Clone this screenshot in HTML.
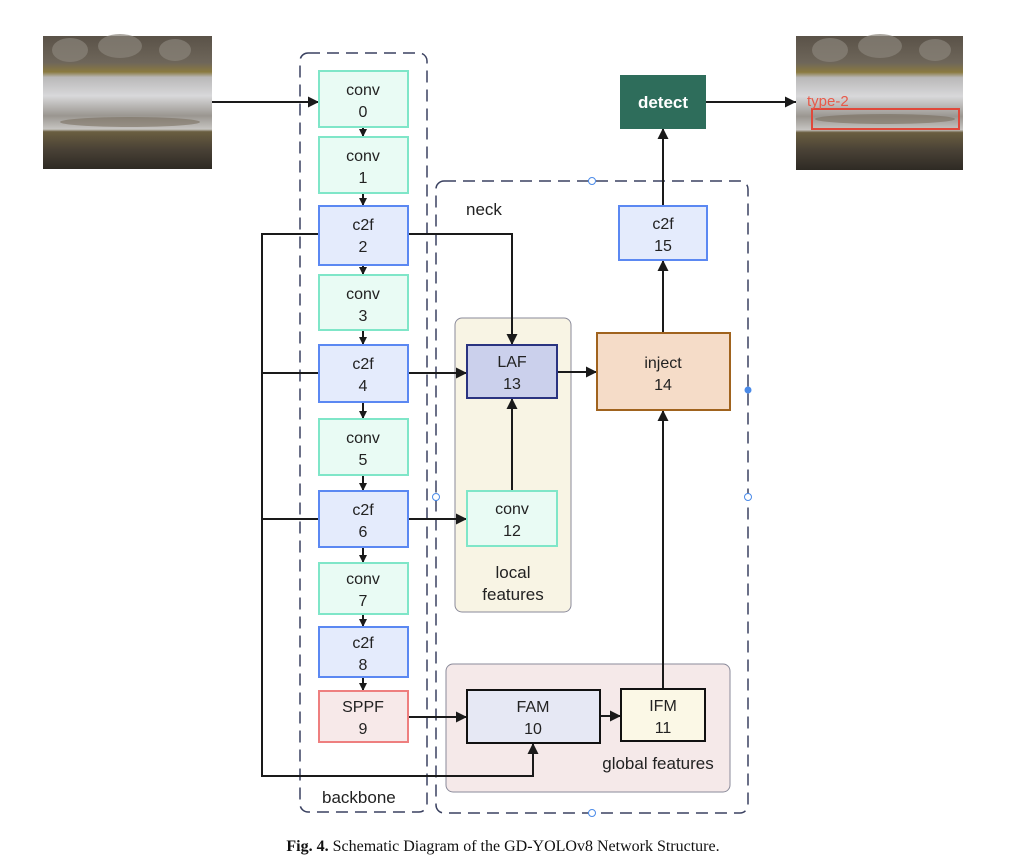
<!DOCTYPE html>
<html><head><meta charset="utf-8"><style>
html,body{margin:0;padding:0;background:#fff;}
svg{display:block;}
.s{font-family:"Liberation Sans","DejaVu Sans",sans-serif;}
</style></head><body>
<svg width="1011" height="864" viewBox="0 0 1011 864" xmlns="http://www.w3.org/2000/svg">
<defs>
<marker id="a" viewBox="0 0 10 10" refX="10" refY="5" markerWidth="8" markerHeight="8" orient="auto-start-reverse" markerUnits="userSpaceOnUse">
<path d="M0,0 L10,5 L0,10 z" fill="#1a1a1a"/></marker>
<marker id="b" viewBox="0 0 10 10" refX="10" refY="5" markerWidth="11" markerHeight="11" orient="auto" markerUnits="userSpaceOnUse">
<path d="M0,0 L10,5 L0,10 z" fill="#1a1a1a"/></marker>
<linearGradient id="rail" x1="0" y1="0" x2="0" y2="1">
<stop offset="0" stop-color="#5a5248"/><stop offset="0.2" stop-color="#6e665a"/>
<stop offset="0.27" stop-color="#8a7a40"/><stop offset="0.31" stop-color="#b9b8b8"/>
<stop offset="0.45" stop-color="#d8d8da"/><stop offset="0.6" stop-color="#9a9690"/>
<stop offset="0.7" stop-color="#c7c5c2"/><stop offset="0.72" stop-color="#6a5e40"/>
<stop offset="0.85" stop-color="#4a4236"/><stop offset="1" stop-color="#2e2a24"/>
</linearGradient>
</defs>

<!-- images -->
<rect x="43" y="36" width="169" height="133" fill="url(#rail)"/>
<g fill="#8a847a" opacity="0.7">
<ellipse cx="70" cy="50" rx="18" ry="12"/><ellipse cx="120" cy="46" rx="22" ry="12"/><ellipse cx="175" cy="50" rx="16" ry="11"/>
</g>
<ellipse cx="130" cy="122" rx="70" ry="5" fill="#7a7060" opacity="0.6"/>
<rect x="796" y="36" width="167" height="134" fill="url(#rail)"/>
<g fill="#8a847a" opacity="0.7">
<ellipse cx="830" cy="50" rx="18" ry="12"/><ellipse cx="880" cy="46" rx="22" ry="12"/><ellipse cx="935" cy="50" rx="16" ry="11"/>
</g>
<ellipse cx="885" cy="119" rx="70" ry="5" fill="#7a7060" opacity="0.6"/>
<rect x="812" y="109" width="147" height="20" fill="none" stroke="#e0483a" stroke-width="2"/>
<text class="s" x="807" y="106" font-size="15" fill="#e85a4a">type-2</text>

<!-- group boxes -->
<rect x="300" y="53" width="127" height="759" rx="8" fill="none" stroke="#3a4160" stroke-width="1.5" stroke-dasharray="12,7"/>
<rect x="436" y="181" width="312" height="632" rx="8" fill="none" stroke="#3a4160" stroke-width="1.5" stroke-dasharray="12,7"/>
<circle cx="592" cy="181" r="3.5" fill="#fff" stroke="#4a8ae8"/>
<circle cx="592" cy="813" r="3.5" fill="#fff" stroke="#4a8ae8"/>
<circle cx="436" cy="497" r="3.5" fill="#fff" stroke="#4a8ae8"/>
<circle cx="748" cy="497" r="3.5" fill="#fff" stroke="#4a8ae8"/>
<circle cx="748" cy="390" r="3.5" fill="#4a8ae8"/>
<rect x="455" y="318" width="116" height="294" rx="7" fill="#f8f4e4" stroke="#8a8a9a"/>
<rect x="446" y="664" width="284" height="128" rx="7" fill="#f5e9e9" stroke="#8a8a9a"/>
<g class="s" font-size="17" fill="#222">
<text x="466" y="215">neck</text>
<text x="322" y="803">backbone</text>
<text x="513" y="578" text-anchor="middle">local</text>
<text x="513" y="600" text-anchor="middle">features</text>
<text x="658" y="769" text-anchor="middle">global features</text>
</g>

<!-- connectors -->
<g stroke="#1a1a1a" stroke-width="2" fill="none">
<line x1="212" y1="102" x2="319" y2="102" marker-end="url(#b)"/>
<line x1="363" y1="127" x2="363" y2="137" marker-end="url(#a)"/>
<line x1="363" y1="193" x2="363" y2="206" marker-end="url(#a)"/>
<line x1="363" y1="265" x2="363" y2="275" marker-end="url(#a)"/>
<line x1="363" y1="330" x2="363" y2="345" marker-end="url(#a)"/>
<line x1="363" y1="402" x2="363" y2="419" marker-end="url(#a)"/>
<line x1="363" y1="475" x2="363" y2="491" marker-end="url(#a)"/>
<line x1="363" y1="547" x2="363" y2="563" marker-end="url(#a)"/>
<line x1="363" y1="614" x2="363" y2="627" marker-end="url(#a)"/>
<line x1="363" y1="677" x2="363" y2="691" marker-end="url(#a)"/>
<polyline points="319,234 262,234 262,776 533,776 533,743" marker-end="url(#b)"/>
<line x1="262" y1="373" x2="319" y2="373"/>
<line x1="262" y1="519" x2="319" y2="519"/>
<polyline points="408,234 512,234 512,345" marker-end="url(#b)"/>
<line x1="408" y1="373" x2="467" y2="373" marker-end="url(#b)"/>
<line x1="408" y1="519" x2="467" y2="519" marker-end="url(#b)"/>
<line x1="512" y1="491" x2="512" y2="398" marker-end="url(#b)"/>
<line x1="557" y1="372" x2="597" y2="372" marker-end="url(#b)"/>
<line x1="663" y1="333" x2="663" y2="260" marker-end="url(#b)"/>
<line x1="663" y1="206" x2="663" y2="128" marker-end="url(#b)"/>
<line x1="705" y1="102" x2="796" y2="102" marker-end="url(#b)"/>
<line x1="663" y1="689" x2="663" y2="410" marker-end="url(#b)"/>
<line x1="408" y1="717" x2="467" y2="717" marker-end="url(#b)"/>
<line x1="600" y1="716" x2="621" y2="716" marker-end="url(#b)"/>
</g>

<!-- nodes -->
<g class="s" font-size="16" fill="#222" text-anchor="middle">
<g stroke-width="2">
<rect x="319" y="71" width="89" height="56" fill="#e9fbf4" stroke="#7fe6c8"/>
<rect x="319" y="137" width="89" height="56" fill="#e9fbf4" stroke="#7fe6c8"/>
<rect x="319" y="206" width="89" height="59" fill="#e4ebfc" stroke="#5b88f2"/>
<rect x="319" y="275" width="89" height="55" fill="#e9fbf4" stroke="#7fe6c8"/>
<rect x="319" y="345" width="89" height="57" fill="#e4ebfc" stroke="#5b88f2"/>
<rect x="319" y="419" width="89" height="56" fill="#e9fbf4" stroke="#7fe6c8"/>
<rect x="319" y="491" width="89" height="56" fill="#e4ebfc" stroke="#5b88f2"/>
<rect x="319" y="563" width="89" height="51" fill="#e9fbf4" stroke="#7fe6c8"/>
<rect x="319" y="627" width="89" height="50" fill="#e4ebfc" stroke="#5b88f2"/>
<rect x="319" y="691" width="89" height="51" fill="#f7e9e9" stroke="#ee7f7f"/>
<rect x="467" y="491" width="90" height="55" fill="#e9fbf4" stroke="#7fe6c8"/>
<rect x="467" y="345" width="90" height="53" fill="#cbd0ec" stroke="#2a3380"/>
<rect x="597" y="333" width="133" height="77" fill="#f5dcc8" stroke="#a0631e"/>
<rect x="619" y="206" width="88" height="54" fill="#e4ebfc" stroke="#5b88f2"/>
<rect x="467" y="690" width="133" height="53" fill="#e6e8f4" stroke="#111"/>
<rect x="621" y="689" width="84" height="52" fill="#fbf8e6" stroke="#111"/>
<rect x="621" y="76" width="84" height="52" fill="#2e6d5b" stroke="#2e6d5b"/>
</g>
<text x="363" y="95">conv</text><text x="363" y="117">0</text>
<text x="363" y="161">conv</text><text x="363" y="183">1</text>
<text x="363" y="230">c2f</text><text x="363" y="252">2</text>
<text x="363" y="299">conv</text><text x="363" y="321">3</text>
<text x="363" y="369">c2f</text><text x="363" y="391">4</text>
<text x="363" y="443">conv</text><text x="363" y="465">5</text>
<text x="363" y="515">c2f</text><text x="363" y="537">6</text>
<text x="363" y="584">conv</text><text x="363" y="606">7</text>
<text x="363" y="648">c2f</text><text x="363" y="670">8</text>
<text x="363" y="712">SPPF</text><text x="363" y="734">9</text>
<text x="512" y="514">conv</text><text x="512" y="536">12</text>
<text x="512" y="367">LAF</text><text x="512" y="389">13</text>
<text x="663" y="368">inject</text><text x="663" y="390">14</text>
<text x="663" y="229">c2f</text><text x="663" y="251">15</text>
<text x="533" y="712">FAM</text><text x="533" y="734">10</text>
<text x="663" y="711">IFM</text><text x="663" y="733">11</text>
<text x="663" y="108" fill="#fff" font-weight="bold" font-size="17">detect</text>
</g>

<text x="503" y="851" font-size="16" text-anchor="middle" style="font-family:'Liberation Serif',serif" fill="#111"><tspan font-weight="bold">Fig. 4.</tspan>  Schematic Diagram of the GD-YOLOv8 Network Structure.</text>
</svg>
</body></html>
